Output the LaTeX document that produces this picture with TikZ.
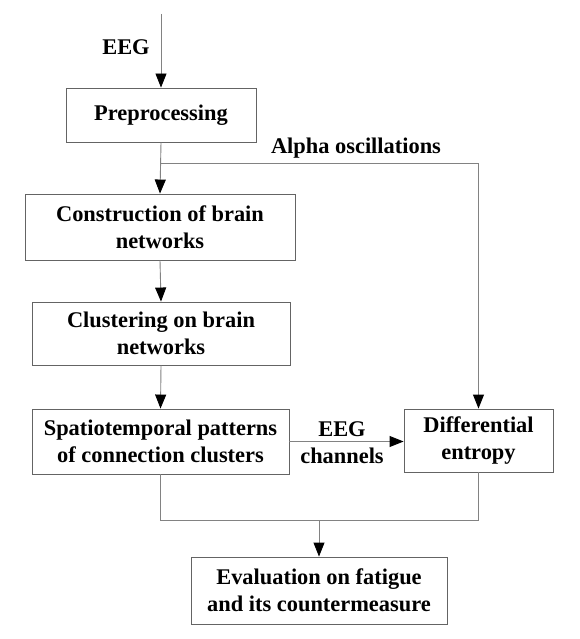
\documentclass[tikz,border=0pt]{standalone}
\usepackage{fontspec}
\setmainfont{Liberation Serif}
\usetikzlibrary{arrows.meta}
\definecolor{boxgray}{RGB}{100,100,100}
\definecolor{linegray}{RGB}{130,130,130}
\begin{document}
\begin{tikzpicture}[x=1pt,y=-1pt,
  font=\fontsize{22.4}{27}\selectfont\bfseries,
  stepbox/.style={draw=boxgray,line width=0.9pt,inner sep=0pt,align=center,text=black},
  conn/.style={draw=linegray,line width=0.9pt},
  arr/.style={conn,-{Triangle[length=14pt,width=11pt,fill=black,color=black]}},
  lbl/.style={inner sep=0pt,align=center,text=black}]
\useasboundingbox (0,0) rectangle (579,639);
\fill[white] (0,0) rectangle (579,639);

\node[stepbox,minimum width=190,minimum height=54] (pre) at (161,115) {Preprocessing};
\node[stepbox,minimum width=270,minimum height=66] (con) at (160,227) {Construction of brain\\networks};
\node[stepbox,minimum width=258,minimum height=63] (clu) at (161,333.5) {Clustering on brain\\networks};
\node[stepbox,minimum width=257,minimum height=65] (spt) at (160.5,441.5) {Spatiotemporal patterns\\of connection clusters};
\node[stepbox,minimum width=149,minimum height=63] (dif) at (478.5,440.5) {Differential\\entropy};
\node[stepbox,minimum width=256,minimum height=67] (eva) at (319,590.5) {Evaluation on fatigue\\and its countermeasure};

\coordinate (top) at (161,14);
\coordinate (split) at (161,163);
\coordinate (bot) at (319,520);

\node[lbl] (eeg) at (126,47) {EEG};
\node[lbl] (alpha) at (356,148) {Alpha oscillations};
\node[lbl] (chan) at (342,443) {EEG\\channels};

\draw[arr] (top) -- (pre.north);
\draw[arr] (pre.south) -- (con.north);
\draw[arr] (split) -| (dif.north);
\draw[arr] (con.south) -- (clu.north);
\draw[arr] (clu.south) -- (spt.north);
\draw[arr] (spt.east) -- (spt.east -| dif.west);
\draw[conn] (spt.south) -- (spt.south |- bot) -- (dif.south |- bot) -- (dif.south);
\draw[arr] (bot) -- (eva.north);
\end{tikzpicture}
\end{document}
